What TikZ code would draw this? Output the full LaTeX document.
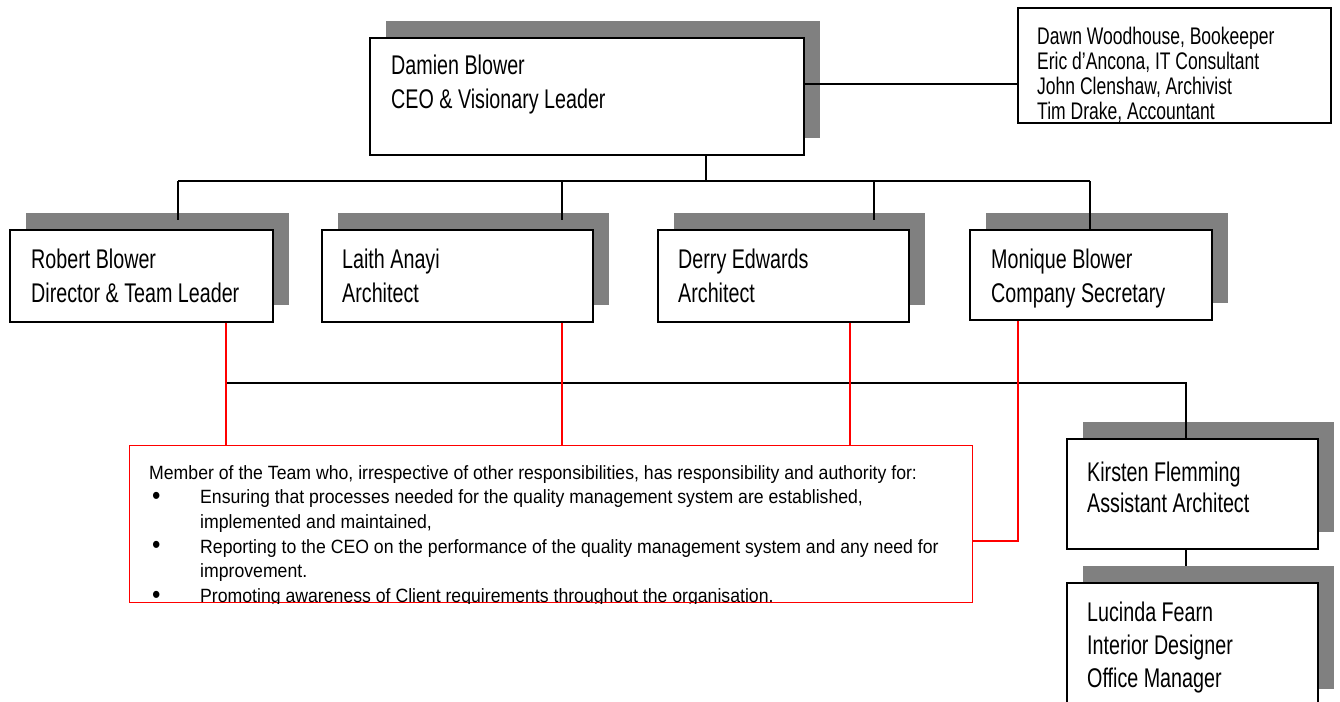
\documentclass[tikz,border=0pt]{standalone}
\usepackage{fontspec}
\newfontfamily\narrowfont{Liberation Sans}[FakeStretch=0.73]
\newfontfamily\bodyfont{Liberation Sans}[FakeStretch=0.92]
\usetikzlibrary{shadows}
\definecolor{shadowgray}{RGB}{128,128,128}
\definecolor{linered}{RGB}{255,0,0}
\newcommand{\dutybullet}{\hspace*{3pt}\makebox[48pt][l]{\raisebox{-0.5pt}{\fontsize{26}{24.7}\selectfont\textbullet}}}
\begin{document}
\begin{tikzpicture}[x=1pt,y=-1pt,
  orgbox/.style={draw=black, line width=1.7pt, fill=white, rectangle, anchor=north west, inner sep=0pt,
    general shadow={fill=shadowgray, shadow xshift=16pt, shadow yshift=17pt}},
  plainbox/.style={draw=black, line width=1.7pt, fill=white, rectangle, anchor=north west, inner sep=0pt},
  dutybox/.style={draw=linered, line width=1.3pt, rectangle, anchor=north west, inner sep=0pt},
  boxtext/.style={anchor=north west, inner sep=0pt, align=left, font=\narrowfont\fontsize{27}{34}\selectfont},
  stafftext/.style={anchor=north west, inner sep=0pt, align=left, font=\narrowfont\fontsize{24}{25}\selectfont},
  dutytext/.style={anchor=north west, inner sep=0pt, align=left, font=\bodyfont\fontsize{19.2}{24.7}\selectfont},
  conn/.style={draw=black, line width=1.7pt},
  redconn/.style={draw=linered, line width=1.3pt}]
\useasboundingbox (0,0) rectangle (1340,701);
\clip (0,0) rectangle (1340,701);

% junction coordinates
\coordinate (ceodrop) at (706,181);
\coordinate (busL) at (178,181);
\coordinate (busLaith) at (562,181);
\coordinate (busDerry) at (874,181);
\coordinate (busR) at (1090,181);
\coordinate (endL) at (178,220);
\coordinate (endLaith) at (562,220);
\coordinate (endDerry) at (874,220);
\coordinate (sidebar) at (900,84);
\coordinate (bus2L) at (226,383);
\coordinate (bus2R) at (1186,383);
\coordinate (redR) at (562,0);
\coordinate (redD) at (850,0);
\coordinate (redM) at (1018,541);
\coordinate (lucshadow) at (1186,566);

% boxes
\node[orgbox, minimum width=434pt, minimum height=117pt] (ceo) at (369,37) {};
\node[plainbox, minimum width=313pt, minimum height=115pt] (staff) at (1017,7) {};
\node[orgbox, minimum width=263pt, minimum height=92pt] (robert) at (9,229) {};
\node[orgbox, minimum width=271pt, minimum height=92pt] (laith) at (321,229) {};
\node[orgbox, minimum width=251pt, minimum height=92pt] (derry) at (657,229) {};
\node[orgbox, minimum width=242pt, minimum height=90pt] (monique) at (969,229) {};
\node[orgbox, minimum width=251pt, minimum height=110pt] (kirsten) at (1066,438) {};
\node[orgbox, minimum width=251pt, minimum height=123pt] (lucinda) at (1066,582) {};
\node[dutybox, minimum width=843pt, minimum height=157pt] (duty) at (129,445) {};

% black connectors
\draw[conn] (ceo.south -| ceodrop) -- (ceodrop);
\draw[conn] (busL) -- (busR);
\draw[conn] (busL) -- (endL);
\draw[conn] (busLaith) -- (endLaith);
\draw[conn] (busDerry) -- (endDerry);
\draw[conn] (busR) -- (monique.north -| busR);
\draw[conn] (ceo.east |- sidebar) -- (staff.west |- sidebar);
\draw[conn] (bus2L) -- (bus2R) -- (kirsten.north -| bus2R);
\draw[conn] (kirsten.south -| bus2R) -- (lucshadow);

% red connectors
\draw[redconn] (robert.south -| bus2L) -- (duty.north -| bus2L);
\draw[redconn] (laith.south -| redR) -- (duty.north -| redR);
\draw[redconn] (derry.south -| redD) -- (duty.north -| redD);
\draw[redconn] (monique.south -| redM) -- (redM) -- (duty.east |- redM);

% texts
\node[boxtext] (ceotext) at (391,55) {Damien Blower\\CEO \& Visionary Leader};
\node[stafftext] (stafftext) at (1037,27) {Dawn Woodhouse, Bookeeper\\Eric d’Ancona, IT Consultant\\John Clenshaw, Archivist\\Tim Drake, Accountant};
\node[boxtext] (roberttext) at (31,249) {Robert Blower\\Director \& Team Leader};
\node[boxtext] (laithtext) at (342,249) {Laith Anayi\\Architect};
\node[boxtext] (derrytext) at (678,249) {Derry Edwards\\Architect};
\node[boxtext] (moniquetext) at (991,249) {Monique Blower\\Company Secretary};
\node[boxtext, font=\narrowfont\fontsize{27}{31}\selectfont] (kirstentext) at (1087,462) {Kirsten Flemming\\Assistant Architect};
\node[boxtext, font=\narrowfont\fontsize{27}{33}\selectfont] (lucindatext) at (1087,602) {Lucinda Fearn\\Interior Designer\\Office Manager};

\begin{scope}
\clip (duty.north west) rectangle (duty.south east);
\node[dutytext] (dutytext) at (149,465) {Member of the Team who, irrespective of other responsibilities, has responsibility and authority for:\\
\dutybullet Ensuring that processes needed for the quality management system are established,\\
\hspace*{51pt}implemented and maintained,\\
\dutybullet Reporting to the CEO on the performance of the quality management system and any need for\\
\hspace*{51pt}improvement.\\
\dutybullet Promoting awareness of Client requirements throughout the organisation.};
\end{scope}
\end{tikzpicture}
\end{document}
